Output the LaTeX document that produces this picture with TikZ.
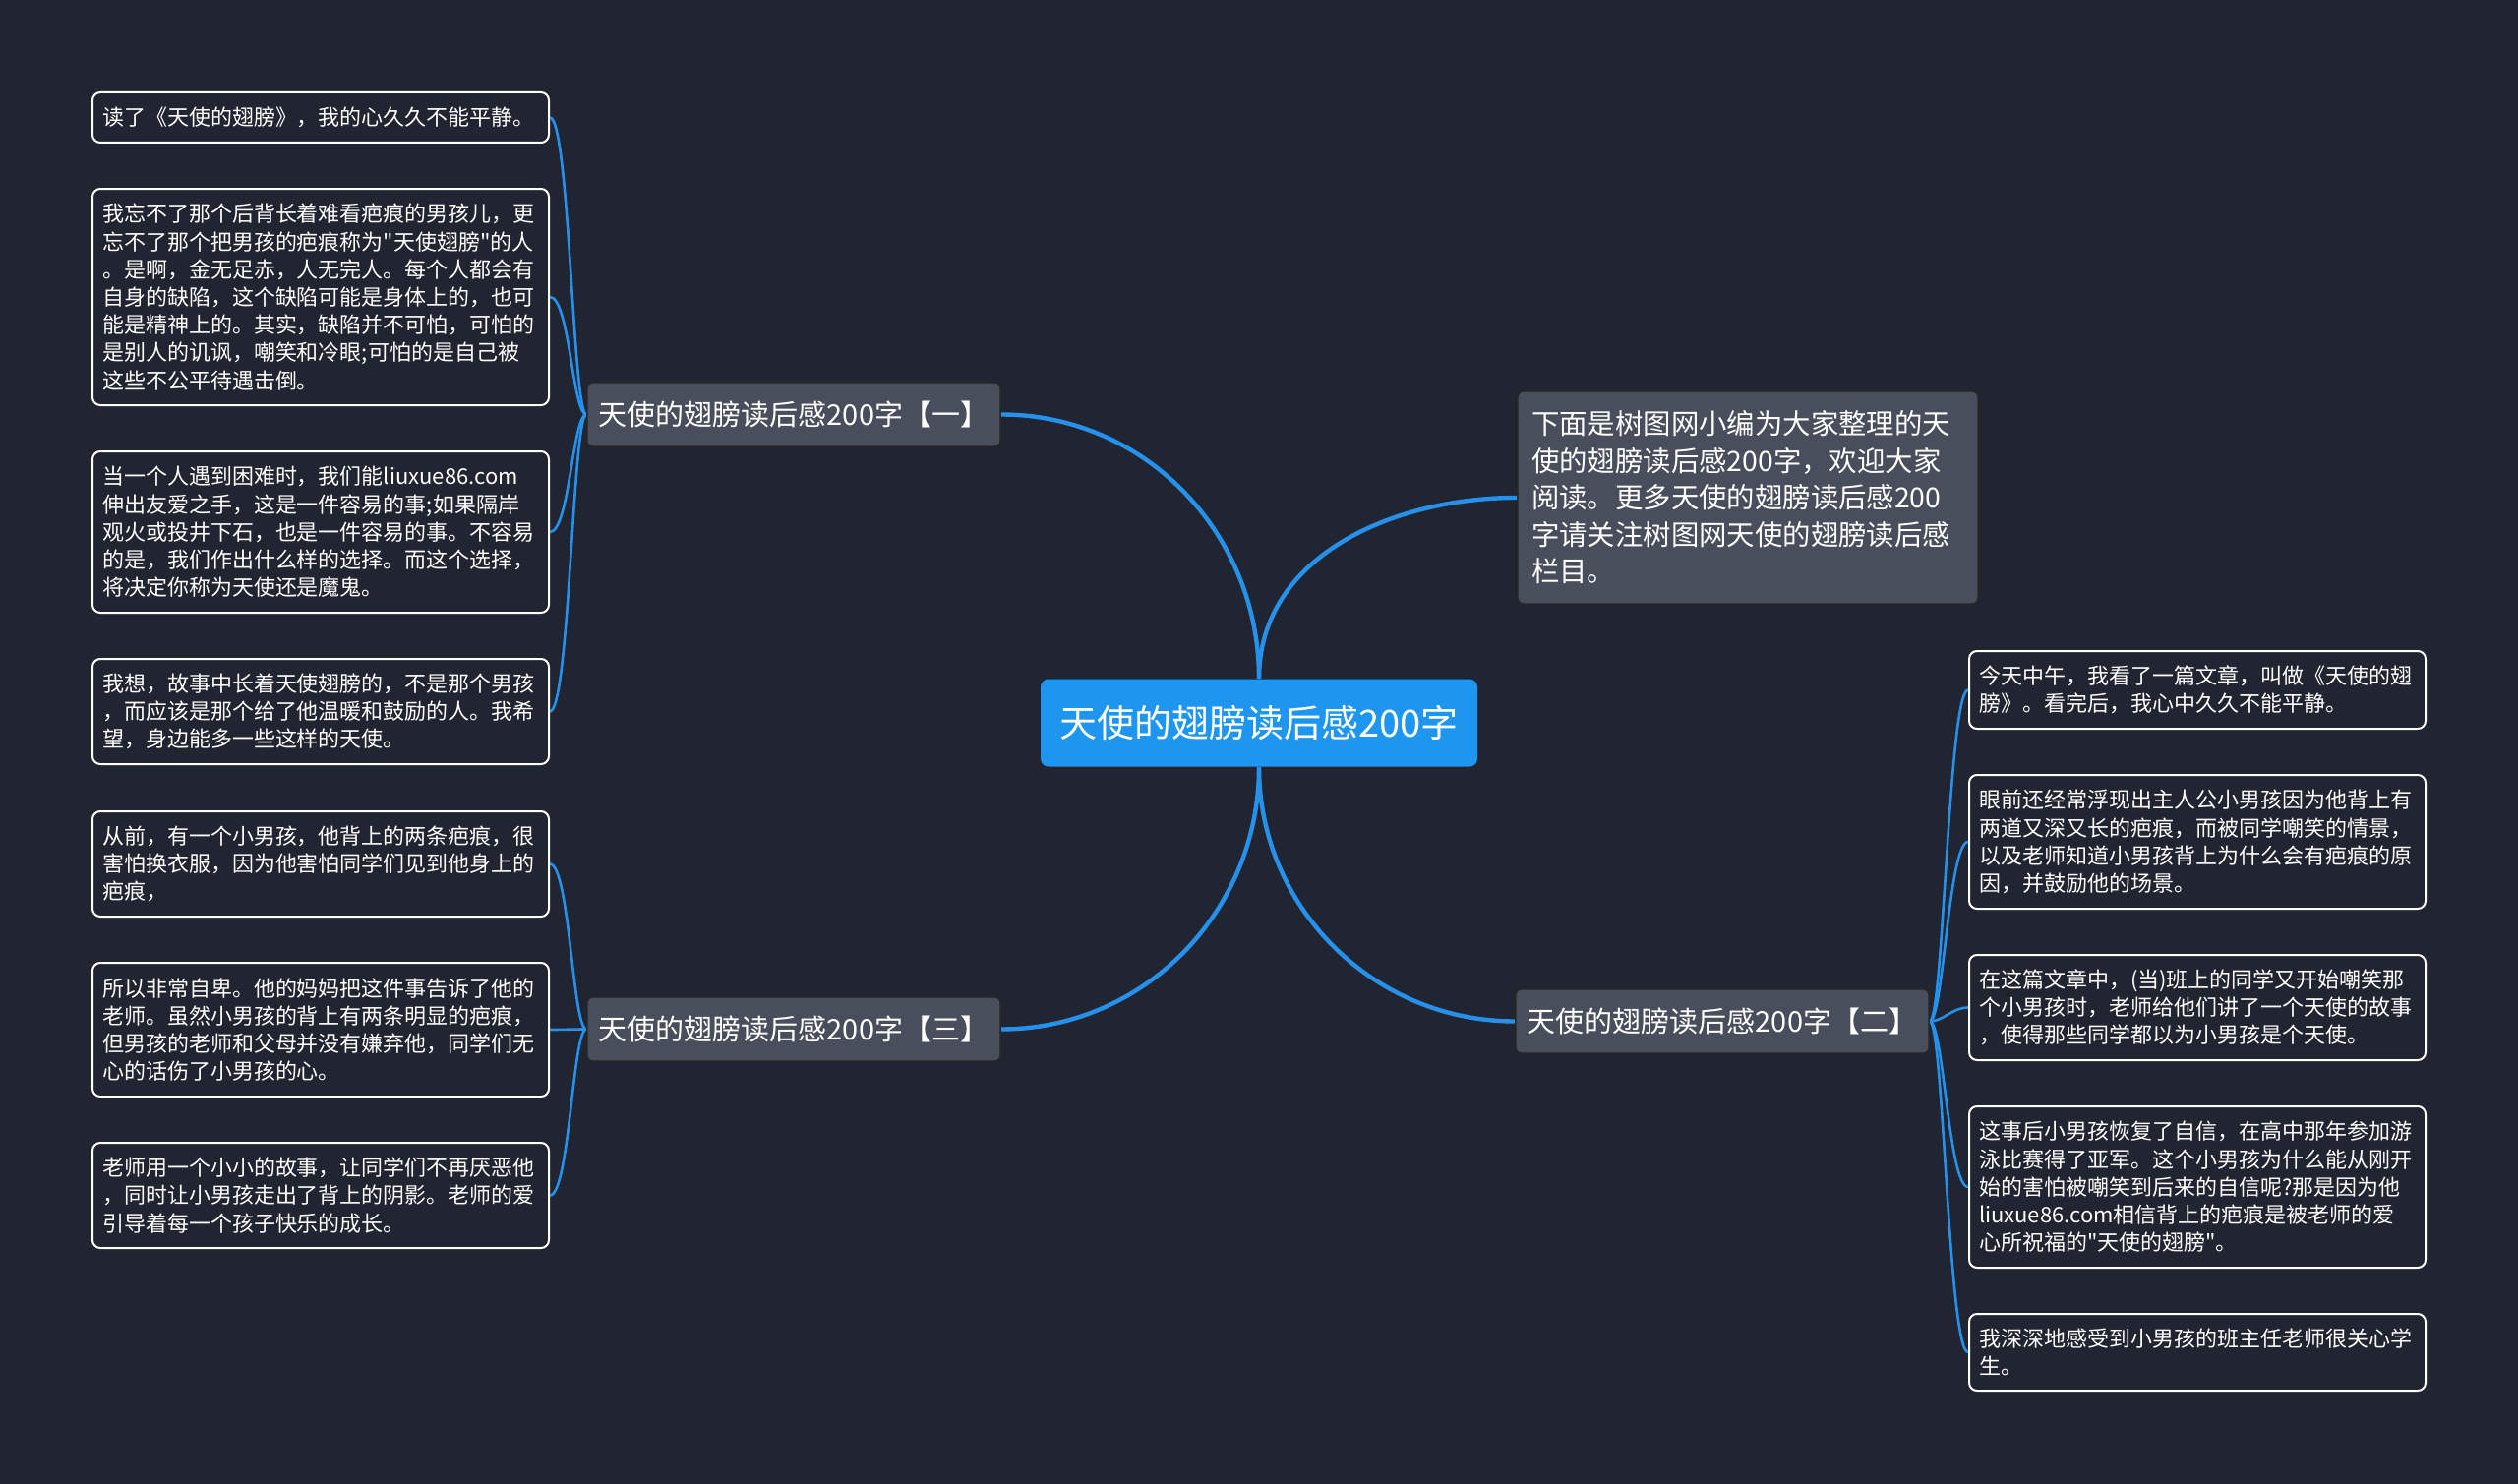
\documentclass[tikz,border=0pt]{standalone}
\usepackage{fontspec}
\setmainfont{Noto Sans CJK SC}
\newfontfamily\cjkfont{Noto Sans CJK SC}
\usepackage{tikz}
\pgfdeclarelayer{edgelayer}
\pgfdeclarelayer{nodelayer}
\pgfsetlayers{edgelayer,nodelayer,main}
\definecolor{bg}{RGB}{33,37,49}
\definecolor{branchgray}{RGB}{72,78,92}
\definecolor{rootblue}{RGB}{30,150,240}
\definecolor{linkblue}{RGB}{37,145,235}
\tikzstyle{root}=[fill=rootblue, rounded corners=4pt, text=white, font=\cjkfont\fontsize{19pt}{23pt}\selectfont, minimum width=222pt, minimum height=44.5pt]
\tikzstyle{branch}=[fill=branchgray, draw=black!85, line width=0.7pt, rounded corners=3pt, text=white, font=\cjkfont\fontsize{14.5pt}{17pt}\selectfont, minimum width=209pt, minimum height=32.5pt, inner xsep=6pt]
\tikzstyle{intro}=[fill=branchgray, draw=black!85, line width=0.7pt, rounded corners=3pt, text=white, font=\cjkfont\fontsize{14.2pt}{18.75pt}\selectfont, text width=220pt, align=left, inner xsep=7pt, minimum height=108pt]
\tikzstyle{leaf}=[fill=bg, draw=white, line width=1pt, rounded corners=4pt, text=white, font=\cjkfont\fontsize{11pt}{14.1pt}\selectfont, text width=222pt, align=left, inner xsep=5pt]
\tikzstyle{trunk}=[draw=linkblue, line width=2.2pt]
\tikzstyle{twig}=[draw=linkblue, line width=1.3pt]
\tikzstyle{fan}=[out max distance=7pt, in max distance=10pt]

\begin{document}
\begin{tikzpicture}[x=0.5pt, y=-0.5pt]
	\useasboundingbox (0,0) rectangle (2560,1509);
	\begin{pgfonlayer}{nodelayer}
		\node [style=root] (0) at (1280, 735) {天使的翅膀读后感200字};
		\node [style=branch] (1) at (807, 421.5) {天使的翅膀读后感200字【一】};
		\node [style=intro] (2) at (1777, 506) {下面是树图网小编为大家整理的天\\使的翅膀读后感200字，欢迎大家\\阅读。更多天使的翅膀读后感200\\字请关注树图网天使的翅膀读后感\\栏目。};
		\node [style=branch] (3) at (1751, 1038.5) {天使的翅膀读后感200字【二】};
		\node [style=branch] (4) at (807, 1046.5) {天使的翅膀读后感200字【三】};
		% left leaves
		\node [style=leaf, minimum height=25.5pt] (5) at (326, 119.5) {读了《天使的翅膀》，我的心久久不能平静。};
		\node [style=leaf, minimum height=110pt] (6) at (326, 302) {我忘不了那个后背长着难看疤痕的男孩儿，更\\忘不了那个把男孩的疤痕称为"天使翅膀"的人\\。是啊，金无足赤，人无完人。每个人都会有\\自身的缺陷，这个缺陷可能是身体上的，也可\\能是精神上的。其实，缺陷并不可怕，可怕的\\是别人的讥讽，嘲笑和冷眼;可怕的是自己被\\这些不公平待遇击倒。};
		\node [style=leaf, minimum height=82pt] (7) at (326, 541) {当一个人遇到困难时，我们能liuxue86.com\\伸出友爱之手，这是一件容易的事;如果隔岸\\观火或投井下石，也是一件容易的事。不容易\\的是，我们作出什么样的选择。而这个选择，\\将决定你称为天使还是魔鬼。};
		\node [style=leaf, minimum height=53.5pt] (8) at (326, 723.5) {我想，故事中长着天使翅膀的，不是那个男孩\\，而应该是那个给了他温暖和鼓励的人。我希\\望，身边能多一些这样的天使。};
		\node [style=leaf, minimum height=53.5pt] (9) at (326, 878.5) {从前，有一个小男孩，他背上的两条疤痕，很\\害怕换衣服，因为他害怕同学们见到他身上的\\疤痕，};
		\node [style=leaf, minimum height=68pt] (10) at (326, 1047) {所以非常自卑。他的妈妈把这件事告诉了他的\\老师。虽然小男孩的背上有两条明显的疤痕，\\但男孩的老师和父母并没有嫌弃他，同学们无\\心的话伤了小男孩的心。};
		\node [style=leaf, minimum height=53.5pt] (11) at (326, 1215.5) {老师用一个小小的故事，让同学们不再厌恶他\\，同时让小男孩走出了背上的阴影。老师的爱\\引导着每一个孩子快乐的成长。};
		% right leaves
		\node [style=leaf, minimum height=39.5pt] (12) at (2234, 701.5) {今天中午，我看了一篇文章，叫做《天使的翅\\膀》。看完后，我心中久久不能平静。};
		\node [style=leaf, minimum height=68pt] (13) at (2234, 856) {眼前还经常浮现出主人公小男孩因为他背上有\\两道又深又长的疤痕，而被同学嘲笑的情景，\\以及老师知道小男孩背上为什么会有疤痕的原\\因，并鼓励他的场景。};
		\node [style=leaf, minimum height=53.5pt] (14) at (2234, 1024.5) {在这篇文章中，(当)班上的同学又开始嘲笑那\\个小男孩时，老师给他们讲了一个天使的故事\\，使得那些同学都以为小男孩是个天使。};
		\node [style=leaf, minimum height=82pt] (15) at (2234, 1207) {这事后小男孩恢复了自信，在高中那年参加游\\泳比赛得了亚军。这个小男孩为什么能从刚开\\始的害怕被嘲笑到后来的自信呢?那是因为他\\liuxue86.com相信背上的疤痕是被老师的爱\\心所祝福的"天使的翅膀"。};
		\node [style=leaf, minimum height=39pt] (16) at (2234, 1375) {我深深地感受到小男孩的班主任老师很关心学\\生。};
	\end{pgfonlayer}
	\begin{pgfonlayer}{edgelayer}
		\fill [bg] (0,0) rectangle (2560,1509);
		\draw [style=trunk] (0.north) to [out=90, in=0] (1.east);
		\draw [style=trunk] (0.north) to [out=90, in=180] (2.west);
		\draw [style=trunk] (0.south) to [out=-90, in=180] (3.west);
		\draw [style=trunk] (0.south) to [out=-90, in=0] (4.east);
		\foreach \n in {5,6,7,8}
			\draw [style=twig] (1.west) to [out=180, in=0, style=fan] (\n.east);
		\foreach \n in {9,10,11}
			\draw [style=twig] (4.west) to [out=180, in=0, style=fan] (\n.east);
		\foreach \n in {12,13,14,15,16}
			\draw [style=twig] (3.east) to [out=0, in=180, style=fan] (\n.west);
	\end{pgfonlayer}
\end{tikzpicture}
\end{document}
